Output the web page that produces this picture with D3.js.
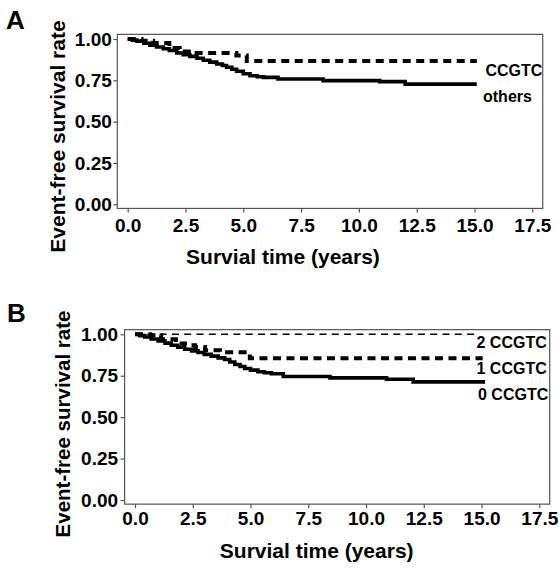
<!DOCTYPE html>
<html><head><meta charset="utf-8">
<script src="https://cdn.jsdelivr.net/npm/d3@7"></script>
<style>body{margin:0;background:#fff}svg{display:block}text{font-family:"Liberation Sans",Arial,sans-serif;font-weight:bold;fill:#000}</style>
</head><body>
<script>
// ---- data ----
const xTicks = [0, 2.5, 5, 7.5, 10, 12.5, 15, 17.5];
const yTicks = [0, 0.25, 0.5, 0.75, 1];
// Panel A: [time, survival]
const aTimeOthers = [0, 0.2, 0.4, 0.7, 0.96, 1.25, 1.54, 1.8, 2.12, 2.4, 2.69, 3.0, 3.27, 3.55, 3.85, 4.1, 4.28, 4.5, 4.71, 5.0, 5.29, 5.6, 5.87, 6.5, 8.45, 10.9, 12.0, 15.1];
const aSurvOthers = [1.0, 0.993, 0.986, 0.974, 0.962, 0.952, 0.941, 0.93, 0.915, 0.905, 0.895, 0.884, 0.871, 0.86, 0.849, 0.84, 0.829, 0.817, 0.805, 0.79, 0.778, 0.772, 0.768, 0.758, 0.748, 0.742, 0.727, 0.727];
const aTimeCCGTC = [0, 0.6, 1.1, 1.8, 2.25, 2.8, 4.7, 5.15, 15.1];
const aSurvCCGTC = [1.0, 0.99, 0.976, 0.945, 0.925, 0.915, 0.90, 0.867, 0.867];
// Panel B
const bTime0 = [0, 0.2, 0.42, 0.7, 1.0, 1.3, 1.57, 1.85, 2.15, 2.45, 2.73, 3.0, 3.3, 3.6, 3.88, 4.1, 4.32, 4.55, 4.75, 5.0, 5.32, 5.6, 5.9, 6.42, 8.44, 10.89, 12.04, 15.15];
const bSurv0 = [1.0, 0.992, 0.984, 0.972, 0.96, 0.947, 0.934, 0.922, 0.91, 0.9, 0.89, 0.879, 0.868, 0.858, 0.848, 0.833, 0.818, 0.806, 0.794, 0.784, 0.774, 0.768, 0.762, 0.745, 0.737, 0.729, 0.713, 0.713];
const bTime1 = [0, 0.65, 1.13, 1.77, 2.16, 2.6, 3.03, 3.68, 4.97, 15.05];
const bSurv1 = [1.0, 0.994, 0.97, 0.944, 0.934, 0.924, 0.904, 0.892, 0.855, 0.855];
const bTime2 = [0, 14.9];
const bSurv2 = [1.0, 1.0];
const labelsA = ["CCGTC", "others"];
const labelsB = ["2 CCGTC", "1 CCGTC", "0 CCGTC"];

const zip = (t, s) => t.map((d, i) => [d, s[i]]);

const svg = d3.select("body").append("svg").attr("width", 559).attr("height", 568);

function panel(cfg) {
  const x = d3.scaleLinear().domain([0, 17.5]).range([cfg.x0, cfg.x1]);
  const y = d3.scaleLinear().domain([0, 1]).range([cfg.y0, cfg.y1]);
  const g = svg.append("g");
  const L = x(-0.45), R = x(17.95), T = y(1.028), B = y(-0.025);
  g.append("rect").attr("x", L).attr("y", T).attr("width", R - L).attr("height", B - T)
    .attr("fill", "none").attr("stroke", "#555").attr("stroke-width", 1.2);
  const ya = g.append("g").attr("transform", `translate(${L},0)`)
    .call(d3.axisLeft(y).tickValues(yTicks).tickFormat(d3.format(".2f")).tickSize(4).tickPadding(cfg.ypad));
  const xa = g.append("g").attr("transform", `translate(0,${B})`)
    .call(d3.axisBottom(x).tickValues(xTicks).tickFormat(d3.format(".1f")).tickSize(4).tickPadding(cfg.xpad));
  [ya, xa].forEach(a => {
    a.select(".domain").remove();
    a.selectAll("line").attr("stroke", "#555").attr("stroke-width", 1.2);
    a.selectAll("text").attr("font-size", 19).attr("font-family", '"Liberation Sans",Arial,sans-serif').attr("font-weight", "bold").attr("fill", "#000");
  });
  const line = d3.line().x(d => x(d[0])).y(d => y(d[1])).curve(d3.curveStepAfter);
  cfg.series.forEach(s => {
    g.append("path").datum(s.data).attr("d", line).attr("fill", "none")
      .attr("stroke", "#000").attr("stroke-width", s.w).attr("stroke-dasharray", s.dash || null);
  });
  cfg.labels.forEach(l => {
    g.append("text").attr("x", l.x).attr("y", l.y).attr("font-size", 16).text(l.t);
  });
  g.append("text").attr("x", cfg.xtx).attr("y", cfg.xty).attr("text-anchor", "middle").attr("font-size", 21).text("Survial time (years)");
  g.append("text").attr("transform", `translate(${cfg.ytx},${cfg.yty}) rotate(-90)`).attr("text-anchor", "middle").attr("font-size", cfg.ytfs).text("Event-free survival rate");
  g.append("text").attr("x", cfg.lx).attr("y", cfg.ly).attr("font-size", 26).text(cfg.letter);
}

panel({
  x0: 127.7, x1: 532.3, y0: 204.3, y1: 39, ypad: 1.5, xpad: 6,
  series: [
    {data: zip(aTimeOthers, aSurvOthers), w: 3.6},
    {data: zip(aTimeCCGTC, aSurvCCGTC), w: 4, dash: "8,5.5"}
  ],
  labels: [{t: labelsA[0], x: 485.5, y: 76}, {t: labelsA[1], x: 483, y: 101.5}],
  xtx: 283, xty: 263.5, ytx: 64.5, yty: 136.5, ytfs: 21, letter: "A", lx: 6, ly: 28.5
});
panel({
  x0: 135, x1: 539.3, y0: 500, y1: 334.3, ypad: 2.5, xpad: 3,
  series: [
    {data: zip(bTime0, bSurv0), w: 3.6},
    {data: zip(bTime1, bSurv1), w: 4, dash: "8,5.5"},
    {data: zip(bTime2, bSurv2), w: 1.6, dash: "7,5.3"}
  ],
  labels: [{t: labelsB[0], x: 476.5, y: 347.5}, {t: labelsB[1], x: 476.5, y: 374}, {t: labelsB[2], x: 478, y: 399.5}],
  xtx: 316.7, xty: 558, ytx: 69.5, yty: 424, ytfs: 20.5, letter: "B", lx: 7, ly: 321.5
});
</script>
</body></html>
